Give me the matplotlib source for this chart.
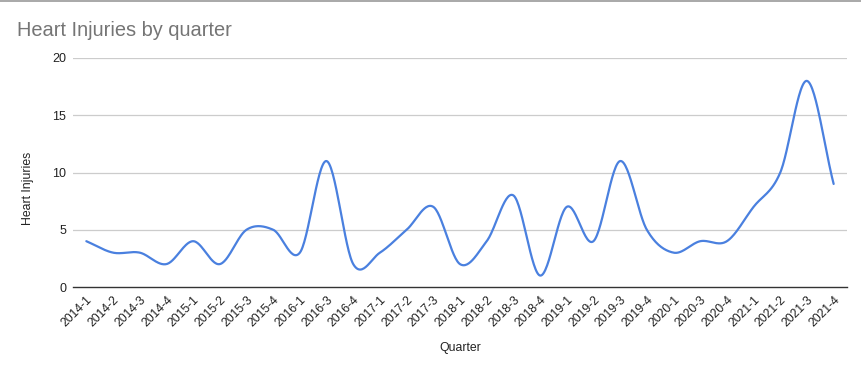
import numpy as np
import matplotlib
matplotlib.use("Agg")
import matplotlib.pyplot as plt
from matplotlib.lines import Line2D

quarters = ["2014-1", "2014-2", "2014-3", "2014-4", "2015-1", "2015-2", "2015-3", "2015-4",
            "2016-1", "2016-3", "2016-4", "2017-1", "2017-2", "2017-3", "2018-1", "2018-2",
            "2018-3", "2018-4", "2019-1", "2019-2", "2019-3", "2019-4", "2020-1", "2020-3",
            "2020-4", "2021-1", "2021-2", "2021-3", "2021-4"]
injuries = [4, 3, 3, 2, 4, 2, 5, 5, 3, 11, 2, 3, 5, 7, 2, 4, 8, 1, 7, 4, 11, 5, 3, 4, 4, 7, 10, 18, 9]
y_ticks = [0, 5, 10, 15, 20]

plt.rcParams['font.family'] = ['Liberation Sans', 'DejaVu Sans']

fig = plt.figure(figsize=(8.61, 3.70), dpi=100)
ax = fig.add_axes([73/861, 83/370, (847-73)/861, (287-58)/370])

x = np.arange(len(quarters), dtype=float)
y = np.array(injuries, dtype=float)

# Catmull-Rom smooth curve through the data points
def smooth(xp, yp, n=30):
    px = np.concatenate([[2*xp[0]-xp[1]], xp, [2*xp[-1]-xp[-2]]])
    py = np.concatenate([[2*yp[0]-yp[1]], yp, [2*yp[-1]-yp[-2]]])
    xs, ys = [], []
    t = np.linspace(0, 1, n, endpoint=False)
    for i in range(1, len(px)-2):
        p0, p1, p2, p3 = py[i-1], py[i], py[i+1], py[i+2]
        m1 = (p2 - p0) / 2
        m2 = (p3 - p1) / 2
        h00 = 2*t**3 - 3*t**2 + 1
        h10 = t**3 - 2*t**2 + t
        h01 = -2*t**3 + 3*t**2
        h11 = t**3 - t**2
        ys.append(h00*p1 + h10*m1 + h01*p2 + h11*m2)
        xs.append(px[i] + t*(px[i+1]-px[i]))
    xs.append([xp[-1]]); ys.append([yp[-1]])
    return np.concatenate(xs), np.concatenate(ys)

sx, sy = smooth(x, y)
ax.plot(sx, sy, color='#4a80df', lw=1.6, solid_capstyle='round', zorder=3)

ax.set_xlim(-0.5, len(quarters)-0.5)
ax.set_ylim(0, 20)
ax.set_yticks(y_ticks)
ax.set_yticklabels([str(v) for v in y_ticks], fontsize=9, color='#222222')
ax.set_xticks(x)
ax.set_xticklabels(quarters, rotation=45, ha='right', rotation_mode='anchor', fontsize=8.8, color='#222222')
ax.tick_params(axis='both', length=0)
ax.tick_params(axis='y', pad=5)
ax.tick_params(axis='x', pad=5)
for s in ['top', 'right', 'left']:
    ax.spines[s].set_visible(False)
ax.spines['bottom'].set_color('#333333')
ax.spines['bottom'].set_linewidth(1.0)
ax.spines['bottom'].set_zorder(4)
for v in y_ticks[1:]:
    ax.axhline(v, color='#cccccc', lw=0.9, zorder=1)

fig.text(28/861, 1 - 188/370, 'Heart Injuries', fontsize=8.8, color='#222222',
         rotation=90, ha='center', va='center')
ax.set_xlabel('Quarter', fontsize=8.8, color='#222222', labelpad=9)

fig.text(17/861, 1 - 31/370, 'Heart Injuries by quarter', fontsize=14.4, color='#757575', va='center', ha='left')
fig.add_artist(Line2D([0, 1], [1 - 1/370, 1 - 1/370], color='#999999', lw=1.2, transform=fig.transFigure))

fig.savefig('out.png', dpi=100)
